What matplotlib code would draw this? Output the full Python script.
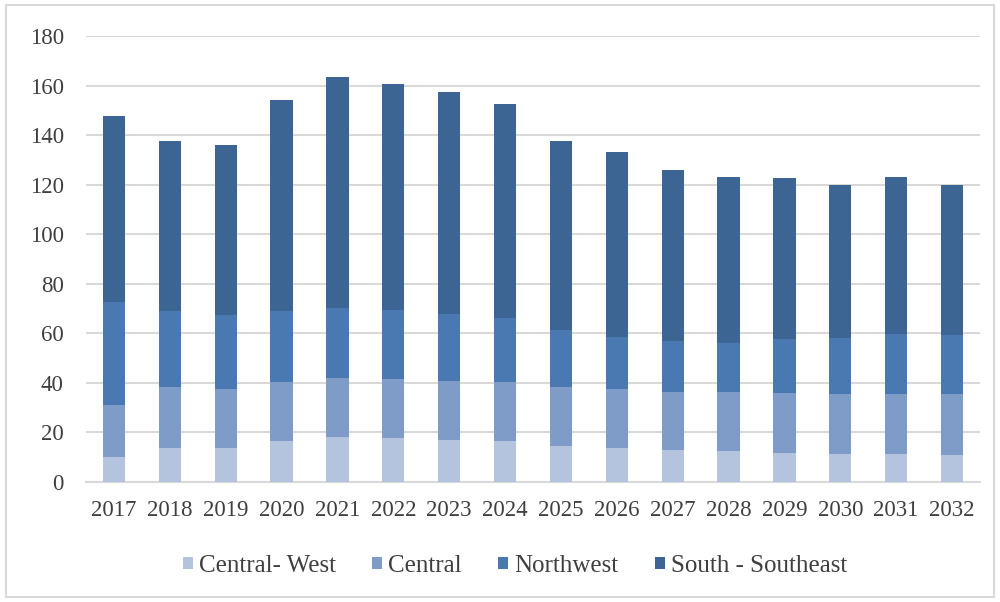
import matplotlib
matplotlib.use("Agg")
import matplotlib.pyplot as plt
from matplotlib.patches import Rectangle

plt.rcParams['font.family'] = ['Liberation Serif', 'DejaVu Serif']

years = [str(y) for y in range(2017, 2033)]
central_west = [10.1, 13.7, 13.7, 16.6, 18.1, 17.5, 17.0, 16.6, 14.4, 13.7, 12.8, 12.3, 11.7, 11.2, 11.2, 10.7]
central = [21.0, 24.4, 23.9, 23.5, 23.8, 23.9, 23.7, 23.5, 23.7, 23.9, 23.5, 24.0, 24.1, 24.1, 24.1, 24.6]
northwest = [41.5, 30.7, 29.6, 28.7, 28.4, 27.9, 27.0, 26.0, 23.2, 21.0, 20.6, 19.6, 21.7, 22.7, 24.4, 23.8]
south_southeast = [75.2, 68.8, 68.8, 85.4, 93.1, 91.3, 89.7, 86.6, 76.3, 74.7, 68.9, 67.2, 65.0, 61.8, 63.4, 60.7]

series = [
    ("Central- West", central_west, "#B4C3DE"),
    ("Central", central, "#7F9CC8"),
    ("Northwest", northwest, "#4A78B0"),
    ("South - Southeast", south_southeast, "#3C6593"),
]

fig = plt.figure(figsize=(10, 6.02), dpi=100)
ax = fig.add_axes([0.086, 0.2, 0.894, 0.74])

x = list(range(len(years)))
bottom = [0.0] * len(years)
for name, vals, color in series:
    ax.bar(x, vals, width=0.4, bottom=bottom, color=color, label=name, zorder=3)
    bottom = [b + v for b, v in zip(bottom, vals)]

ax.set_ylim(0, 180)
ax.set_xlim(-0.5, len(years) - 0.5)
ax.set_yticks(range(0, 181, 20))
ax.set_xticks(x)
ax.set_xticklabels(years)
ax.yaxis.grid(True, color="#D9D9D9", linewidth=1.5, zorder=0)
ax.tick_params(axis="both", length=0, labelsize=16.5, colors="#3F3F3F")
ax.tick_params(axis="x", pad=13)
ax.tick_params(axis="y", pad=16)
for s in ["top", "right", "left"]:
    ax.spines[s].set_visible(False)
ax.spines["bottom"].set_color("#D9D9D9")
ax.spines["bottom"].set_linewidth(1.5)

leg = fig.legend(loc="center", bbox_to_anchor=(0.515, 0.06), ncol=4, frameon=False,
                 fontsize=18, handlelength=0.4, handleheight=0.4, handletextpad=0.25,
                 columnspacing=1.45)
for t in leg.get_texts():
    t.set_color("#3F3F3F")

fig.patches.append(Rectangle((0.006, 0.008), 0.988, 0.984, transform=fig.transFigure,
                             fill=False, edgecolor="#D9D9D9", linewidth=1.5))

fig.savefig("out.png", dpi=100)
